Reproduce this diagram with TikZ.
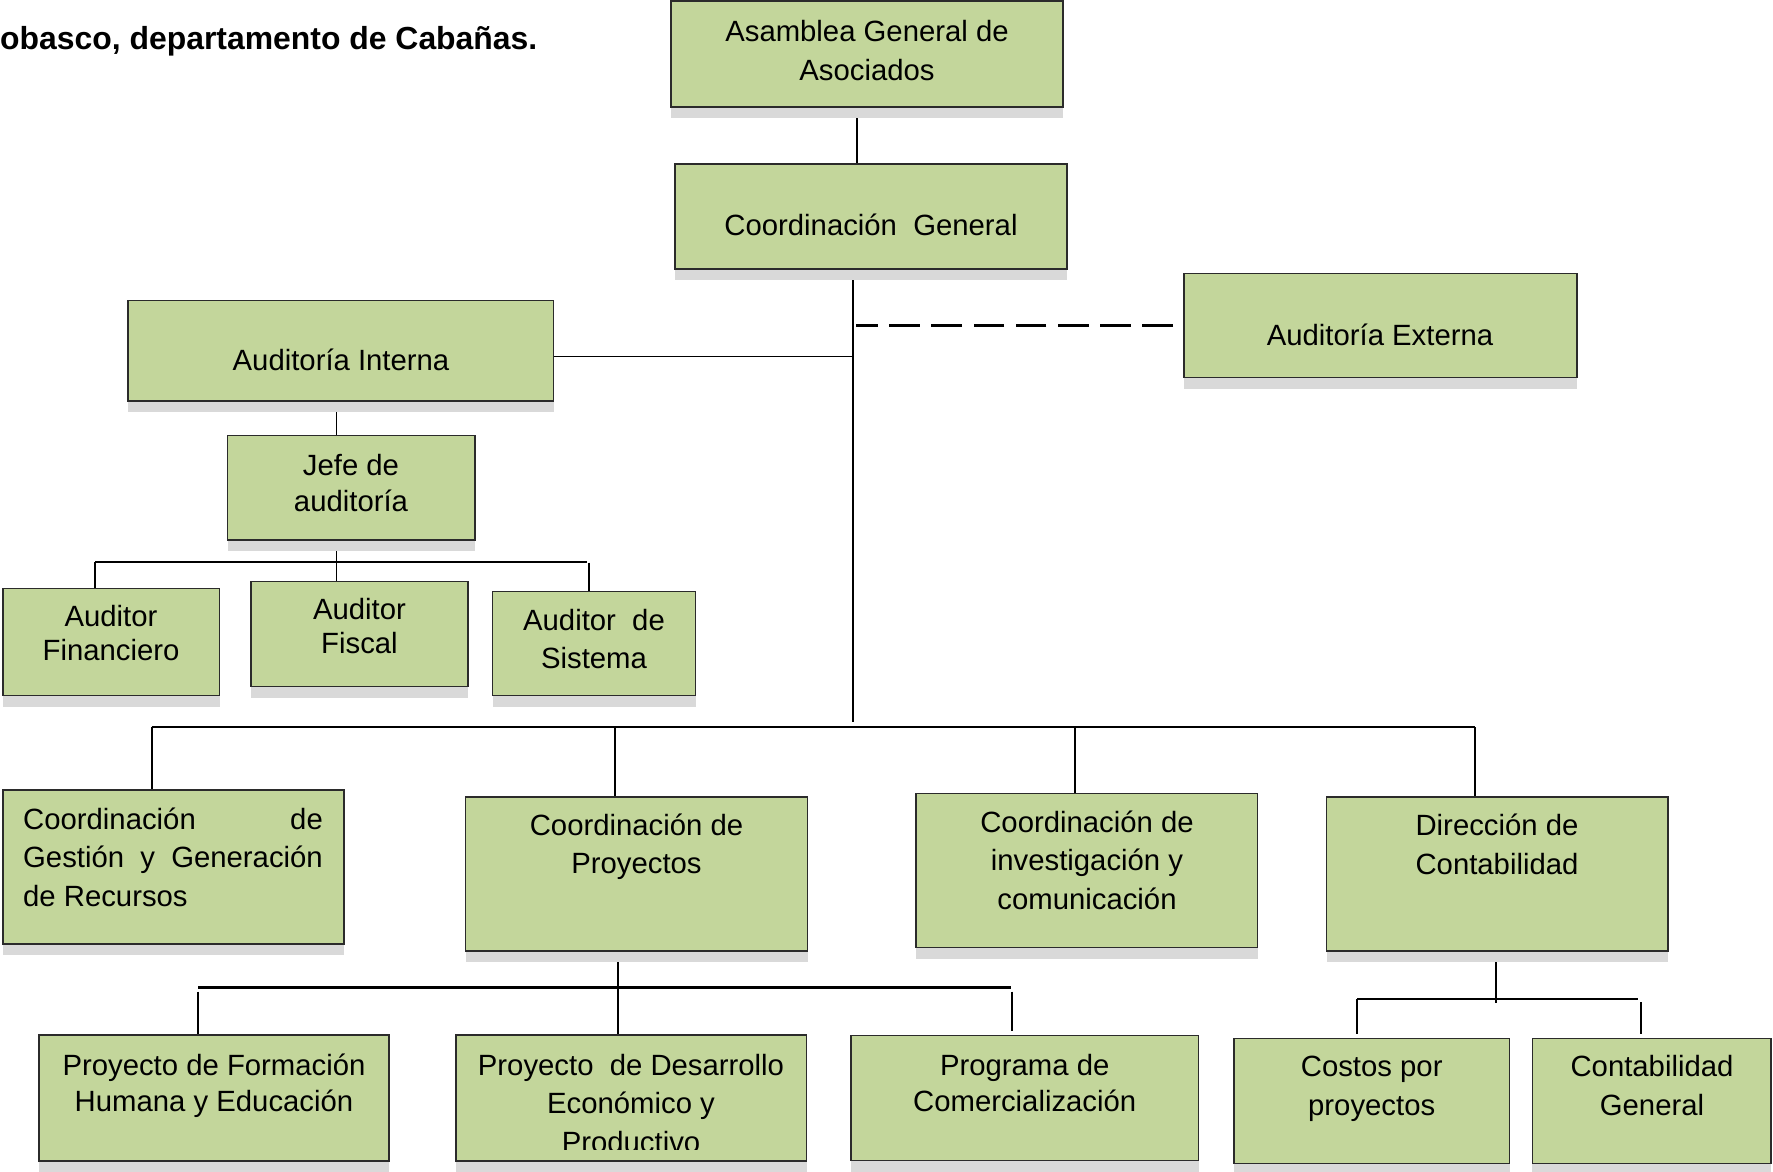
\documentclass[tikz,border=0pt]{standalone}
\usepackage{fontspec}
\setmainfont{Liberation Sans}
\usetikzlibrary{calc}

\definecolor{boxgreen}{HTML}{C3D69B}
\definecolor{shadowgray}{HTML}{D9D9D9}
\definecolor{edgegray}{HTML}{2B2B2B}

\pgfdeclarelayer{wires}
\pgfdeclarelayer{shade}
\pgfsetlayers{wires,shade,main}

\tikzset{
  orgbox/.style={draw=edgegray, line width=1.3pt, fill=boxgreen, inner sep=0pt, outer sep=0pt},
  lbl/.style={font=\fontsize{29.3}{#1}\selectfont, align=center, inner sep=0pt, anchor=base},
  lbl/.default=38.5,
  link/.style={line width=1.9pt, black},
  busbar/.style={line width=2.6pt, black},
  extlink/.style={line width=3pt, black, dash pattern=on 30.7pt off 11.5pt},
}

% unit box: name, left, top, right, bottom (y grows downwards), with its drop shadow
\newcommand\orgunit[5]{%
  \begin{pgfonlayer}{shade}
    \fill[shadowgray] (#2,#3+11) rectangle (#4,#5+11);
  \end{pgfonlayer}
  \node[orgbox, minimum width={(#4-#2)*1pt}, minimum height={(#5-#3)*1pt}]
    (#1) at ({(#2+#4)/2},{(#3+#5)/2}) {};
}

\begin{document}
\begin{tikzpicture}[x=1pt,y=-1pt]
\useasboundingbox (0,0) rectangle (1773,1171);

% ---- heading ----
\node[font=\fontsize{31.9}{38}\selectfont\bfseries, inner sep=0pt, anchor=base west]
  (title) at (0,49.3) {obasco, departamento de Cabañas.};

% ---- units ----
\orgunit{asam}{671}{1}{1063}{107}
\orgunit{cg}{675}{164}{1067}{269}
\orgunit{ai}{128}{300.7}{553.5}{401}
\orgunit{ae}{1184}{273.3}{1577}{377.7}
\orgunit{jefe}{227.7}{435.7}{475}{540}
\orgunit{af}{3}{588.3}{219.5}{695.7}
\orgunit{fis}{251}{581.7}{468}{686.7}
\orgunit{sis}{492.7}{591.7}{695.6}{695.7}
\orgunit{cgg}{3}{790}{344}{944}
\orgunit{cp}{465.5}{797}{807.5}{951}
\orgunit{ci}{916}{793.5}{1257.5}{947.5}
\orgunit{dir}{1326.5}{797}{1668}{951}
\orgunit{pf}{39}{1035}{389}{1161}
\orgunit{pd}{456}{1035}{806.5}{1161}
\orgunit{prog}{851}{1035.7}{1198.5}{1160.7}
\orgunit{cos}{1234}{1038.3}{1509.5}{1163.3}
\orgunit{cgen}{1532.3}{1038.3}{1771}{1163.3}

% ---- reference coordinates for connector paths ----
\coordinate (xa) at (857,0);
\coordinate (xt) at (853,0);
\coordinate (tEnd) at (853,722);
\coordinate (jAI) at (853,356.5);
\coordinate (xj) at (336.5,0);
\coordinate (barA) at (0,561.7);
\coordinate (bus) at (0,727);
\coordinate (barP) at (0,987.7);
\coordinate (barC) at (0,999);

\begin{pgfonlayer}{wires}
% ---- upper hierarchy ----
\draw[link] (asam.south -| xa) -- (cg.north -| xa);
\draw[link] (cg.south -| xt) -- (tEnd);
\draw[link] (jAI -| ai.east) -- (jAI);
\draw[extlink] ($(ae.west)+(-11,0)$) -- ($(ae.west -| xt)+(3,0)$);

% ---- internal audit ----
\draw[link] (ai.south -| xj) -- (jefe.north -| xj);
\draw[link] (jefe.south -| xj) -- (fis.north -| xj);
\draw[link] (barA -| 95,0) -- (barA -| 586.8,0);
\draw[link] (barA -| 95,0) -- (af.north -| 95,0);
\draw[link] (588.6,562.7) -- (sis.north -| 588.6,0);

% ---- second level ----
\draw[busbar] (bus -| 151.5,0) -- (bus -| 1474.5,0);
\draw[link] (bus -| 152,0) -- (cgg.north -| 152,0);
\draw[link] (bus -| 615,0) -- (cp.north -| 615,0);
\draw[link] (bus -| 1075,0) -- (ci.north -| 1075,0);
\draw[link] (bus -| 1475,0) -- (dir.north -| 1475,0);

% ---- projects ----
\draw[link] (cp.south -| 618,0) -- (pd.north -| 618,0);
\draw[busbar] (barP -| 198,0) -- (barP -| 1010.5,0);
\draw[link] (198,991.7) -- (pf.north -| 198,0);
\draw[link] (1012,991.7) -- (1012,1030.7);

% ---- accounting ----
\draw[link] (dir.south -| 1495.7,0) -- (1495.7,1003.3);
\draw[busbar] (barC -| 1357,0) -- (barC -| 1637.6,0);
\draw[link] (barC -| 1357,0) -- (1357,1034.3);
\draw[link] (1640.6,1002.3) -- (1640.6,1034.3);
\end{pgfonlayer}

% ---- labels (anchored at the baseline of their last line) ----
\node[lbl] (asamT) at (867,80) {Asamblea General de\\Asociados};
\node[lbl] (cgT) at (871,235) {Coordinación~ General};
\node[lbl] (aiT) at (341,370.7) {Auditoría Interna};
\node[lbl] (aeT) at (1380,345) {Auditoría Externa};
\node[lbl=36.7] (jefeT) at (351,511.7) {Jefe de\\auditoría};
\node[lbl=34] (afT) at (111,660.7) {Auditor\\Financiero};
\node[lbl=34] (fisT) at (359.5,653.3) {Auditor\\Fiscal};
\node[lbl=38] (sisT) at (594,668.3) {Auditor~ de\\Sistema};
\node[lbl, align=left, anchor=base west] (cggT) at (23,906)
  {\hbox to 299.6pt{Coordinación\hfill de}\\\hbox to 299.6pt{Gestión\hfill y\hfill Generación}\\de Recursos};
\node[lbl] (cpT) at (636.5,873.5) {Coordinación de\\Proyectos};
\node[lbl] (ciT) at (1087,909) {Coordinación de\\investigación y\\comunicación};
\node[lbl] (dirT) at (1497,874) {Dirección de\\Contabilidad};
\node[lbl=36.7] (pfT) at (214,1111.7) {Proyecto de Formación\\Humana y Educación};
% the third line of this label overflows its box and is cut off
\begin{scope}
  \clip (pd.north west) rectangle (pd.east |- 0,1149.5);
  \node[lbl=38.5] (pdT) at (631,1152) {Proyecto~ de Desarrollo\\Económico y\\Productivo};
\end{scope}
\node[lbl=36.7] (progT) at (1024.7,1111.7) {Programa de\\Comercialización};
\node[lbl=38.3] (cosT) at (1371.7,1115) {Costos por\\proyectos};
\node[lbl=38.3] (cgenT) at (1652,1115) {Contabilidad\\General};
\end{tikzpicture}
\end{document}
